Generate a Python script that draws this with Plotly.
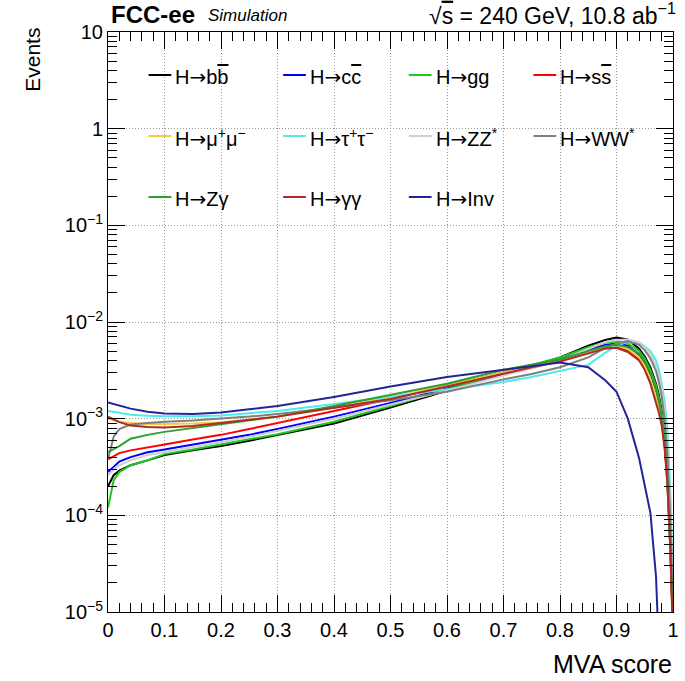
import plotly.graph_objects as go

# ---------------- data ----------------
mva_x = [0.0, 0.01, 0.02, 0.04, 0.07, 0.1, 0.15, 0.2, 0.25, 0.3, 0.4, 0.5, 0.6, 0.7, 0.75,
         0.8, 0.85, 0.88, 0.9, 0.92, 0.94, 0.95, 0.96, 0.97, 0.975, 0.98, 0.985, 0.99, 0.995, 1.0]

h_bb = [2.0e-4, 2.6e-4, 2.9e-4, 3.3e-4, 3.7e-4, 4.2e-4, 4.7e-4, 5.2e-4, 5.9e-4, 6.8e-4, 8.9e-4, 1.3e-3,
        1.95e-3, 2.9e-3, 3.5e-3, 4.3e-3, 5.7e-3, 6.5e-3, 6.9e-3, 6.6e-3, 5.3e-3, 4.4e-3, 3.4e-3, 2.3e-3,
        1.75e-3, 1.2e-3, 6.5e-4, 2.5e-4, 6e-5, 8e-6]
h_cc = [2.8e-4, 3.2e-4, 3.6e-4, 4.0e-4, 4.5e-4, 4.8e-4, 5.4e-4, 6.0e-4, 6.8e-4, 7.8e-4, 1.05e-3, 1.45e-3,
        2.05e-3, 2.9e-3, 3.4e-3, 4.1e-3, 5.2e-3, 5.8e-3, 6.0e-3, 5.7e-3, 4.6e-3, 3.8e-3, 2.9e-3, 2.0e-3,
        1.5e-3, 1.05e-3, 5.8e-4, 2.2e-4, 5e-5, 7e-6]
h_gg = [1.2e-4, 2.3e-4, 2.8e-4, 3.3e-4, 3.7e-4, 4.3e-4, 4.8e-4, 5.4e-4, 6.1e-4, 6.9e-4, 9.3e-4, 1.35e-3,
        2.0e-3, 3.0e-3, 3.6e-3, 4.3e-3, 5.5e-3, 6.1e-3, 6.3e-3, 6.0e-3, 5.0e-3, 4.2e-3, 3.2e-3, 2.2e-3,
        1.65e-3, 1.15e-3, 6.5e-4, 2.5e-4, 6e-5, 8e-6]
h_ss = [3.8e-4, 4.1e-4, 4.4e-4, 4.7e-4, 5.0e-4, 5.4e-4, 6.1e-4, 6.8e-4, 7.8e-4, 9.0e-4, 1.2e-3, 1.6e-3,
        2.2e-3, 3.0e-3, 3.5e-3, 4.0e-3, 4.8e-3, 5.4e-3, 5.5e-3, 5.0e-3, 4.1e-3, 3.3e-3, 2.4e-3, 1.6e-3,
        1.25e-3, 9e-4, 5.5e-4, 2.5e-4, 6e-5, 6e-6]
h_mumu = [1.0e-3, 9.6e-4, 9.3e-4, 9.0e-4, 8.8e-4, 8.8e-4, 8.9e-4, 9.2e-4, 9.8e-4, 1.05e-3, 1.3e-3, 1.65e-3,
          2.2e-3, 3.0e-3, 3.5e-3, 4.0e-3, 4.9e-3, 5.5e-3, 5.7e-3, 5.3e-3, 4.3e-3, 3.5e-3, 2.6e-3, 1.7e-3,
          1.3e-3, 9.5e-4, 5.5e-4, 2.2e-4, 5e-5, 6e-6]
h_tautau = [1.2e-3, 1.18e-3, 1.15e-3, 1.1e-3, 1.07e-3, 1.06e-3, 1.06e-3, 1.08e-3, 1.13e-3, 1.2e-3, 1.42e-3,
            1.7e-3, 2.0e-3, 2.4e-3, 2.7e-3, 3.1e-3, 3.6e-3, 4.8e-3, 5.7e-3, 6.2e-3, 6.0e-3, 5.6e-3, 5.0e-3,
            4.0e-3, 3.2e-3, 2.3e-3, 1.5e-3, 8e-4, 2e-4, 2e-5]
h_zz = [2.6e-4, 3.0e-4, 3.3e-4, 3.7e-4, 4.2e-4, 4.5e-4, 5.1e-4, 5.7e-4, 6.5e-4, 7.5e-4, 1.0e-3, 1.4e-3,
        1.95e-3, 2.8e-3, 3.3e-3, 4.0e-3, 5.3e-3, 6.2e-3, 6.5e-3, 6.6e-3, 6.2e-3, 5.6e-3, 4.6e-3, 3.5e-3,
        2.8e-3, 2.0e-3, 1.2e-3, 6e-4, 1.5e-4, 1.5e-5]
h_ww = [3.8e-4, 6.5e-4, 7.8e-4, 8.7e-4, 9.0e-4, 9.3e-4, 9.6e-4, 1.0e-3, 1.05e-3, 1.12e-3, 1.3e-3, 1.55e-3,
        1.9e-3, 2.55e-3, 2.9e-3, 3.4e-3, 4.3e-3, 5.4e-3, 6.0e-3, 6.3e-3, 5.8e-3, 5.1e-3, 4.2e-3, 3.1e-3,
        2.4e-3, 1.7e-3, 1.0e-3, 4.5e-4, 1e-4, 1.2e-5]
h_zgam = [4.5e-4, 4.8e-4, 5.2e-4, 6.2e-4, 6.8e-4, 7.3e-4, 8.0e-4, 8.8e-4, 9.6e-4, 1.05e-3, 1.35e-3, 1.75e-3,
          2.3e-3, 3.2e-3, 3.6e-3, 4.1e-3, 5.0e-3, 5.6e-3, 5.8e-3, 5.5e-3, 4.7e-3, 3.9e-3, 3.0e-3, 2.0e-3,
          1.5e-3, 1.05e-3, 6e-4, 2.3e-4, 5e-5, 7e-6]
h_gamgam = [1.05e-3, 9.8e-4, 9.2e-4, 8.5e-4, 8.2e-4, 8.1e-4, 8.4e-4, 9.0e-4, 9.7e-4, 1.05e-3, 1.3e-3, 1.6e-3,
            2.15e-3, 2.95e-3, 3.4e-3, 3.9e-3, 4.7e-3, 5.3e-3, 5.4e-3, 4.9e-3, 4.0e-3, 3.2e-3, 2.3e-3, 1.5e-3,
            1.15e-3, 8.5e-4, 5e-4, 2.2e-4, 5e-5, 5e-6]
h_inv = [1.47e-3, 1.42e-3, 1.35e-3, 1.27e-3, 1.18e-3, 1.13e-3, 1.12e-3, 1.16e-3, 1.25e-3, 1.35e-3, 1.68e-3,
         2.15e-3, 2.7e-3, 3.2e-3, 3.5e-3, 3.8e-3, 3.4e-3, 2.5e-3, 1.9e-3, 1.0e-3, 3.9e-4, 2.1e-4, 1.06e-4,
         2.3e-5, 4e-6, None, None, None, None, None]

ov = '<span style="text-decoration:overline">'
arr = '<span style="font-family:DejaVu Sans">→</span>'
labels = ["H" + arr + "b" + ov + "b</span>", "H" + arr + "c" + ov + "c</span>", "H" + arr + "gg",
          "H" + arr + "s" + ov + "s</span>",
          "H" + arr + "μ<sup>+</sup>μ<sup>−</sup>", "H" + arr + "τ<sup>+</sup>τ<sup>−</sup>",
          "H" + arr + "ZZ<sup>*</sup>", "H" + arr + "WW<sup>*</sup>",
          "H" + arr + "Zγ", "H" + arr + "γγ", "H" + arr + "Inv"]
series = [h_bb, h_cc, h_gg, h_ss, h_mumu, h_tautau, h_zz, h_ww, h_zgam, h_gamgam, h_inv]
colors = ["#000000", "#0000ff", "#1ec81e", "#ff0000", "#f2d035", "#50eaea", "#cfcfcf", "#7f7f7f",
          "#2e9e2e", "#b02a2a", "#24249a"]

y_tickvals = [1e-5, 1e-4, 1e-3, 1e-2, 1e-1, 1, 10]
y_ticktext = ["10<sup>−5</sup>", "10<sup>−4</sup>", "10<sup>−3</sup>", "10<sup>−2</sup>",
              "10<sup>−1</sup>", "1", "10"]

# ---------------- layout geometry ----------------
W, H = 685, 681
L, R, T, B = 108, 6, 32, 69
PW, PH = W - L - R, H - T - B
FONT = "Liberation Sans, Arial, Helvetica, sans-serif"


def px(xp):
    return (xp - L) / PW


def py(yp):
    return (H - B - yp) / PH


fig = go.Figure()
for vals, col in zip(series, colors):
    fig.add_trace(go.Scatter(x=mva_x, y=vals, mode="lines", line=dict(color=col, width=2),
                             showlegend=False, connectgaps=False))

annotations = []
shapes = []
# legend (3 rows x 4 columns)
col_x = [149, 285, 412, 538]
row_y = [75, 136, 197]
for i, (lab, col) in enumerate(zip(labels, colors)):
    r, c = divmod(i, 4)
    x0 = col_x[c]
    y0 = row_y[r]
    shapes.append(dict(type="line", xref="paper", yref="paper", x0=px(x0), x1=px(x0 + 23),
                       y0=py(y0), y1=py(y0), line=dict(color=col, width=2)))
    annotations.append(dict(x=px(x0 + 25), y=py(y0 + 2), xref="paper", yref="paper", text=lab,
                            showarrow=False, xanchor="left", yanchor="middle",
                            font=dict(family=FONT, size=20, color="black")))

annotations += [
    dict(x=px(109), y=py(14), xref="paper", yref="paper", text="<b>FCC-ee</b>", showarrow=False,
         xanchor="left", yanchor="middle", font=dict(family=FONT, size=24, color="black")),
    dict(x=px(207), y=py(16), xref="paper", yref="paper", text="<i>Simulation</i>", showarrow=False,
         xanchor="left", yanchor="middle", font=dict(family=FONT, size=17, color="black")),
    dict(x=px(684), y=py(14), xref="paper", yref="paper",
         text="√" + ov + "s</span> = 240 GeV, 10.8 ab<sup>−1</sup>", showarrow=False,
         xanchor="right", yanchor="middle", font=dict(family=FONT, size=23, color="black")),
    dict(x=px(31), y=py(26), xref="paper", yref="paper", text="Events", showarrow=False, textangle=-90,
         xanchor="center", yanchor="top", font=dict(family=FONT, size=21, color="black")),
    dict(x=px(680), y=py(664), xref="paper", yref="paper", text="MVA score", showarrow=False,
         xanchor="right", yanchor="middle", font=dict(family=FONT, size=25, color="black")),
]

minor_y = [k * 10.0 ** e for e in range(-5, 1) for k in range(2, 10)]
GRID = "#9a9a9a"
DASH = "1px,2px"

fig.update_layout(
    width=W, height=H, margin=dict(l=L, r=R, t=T, b=B, pad=0),
    paper_bgcolor="white", plot_bgcolor="white", showlegend=False,
    annotations=annotations, shapes=shapes,
    font=dict(family=FONT, size=20, color="black"),
    xaxis=dict(range=[0, 1], tickmode="linear", tick0=0, dtick=0.1, ticks="inside", ticklen=17,
               tickwidth=1, tickcolor="black", showline=True, linecolor="black", linewidth=1,
               mirror="ticks", showgrid=True, gridcolor=GRID, griddash=DASH, gridwidth=1,
               zeroline=False, tickfont=dict(family=FONT, size=20, color="black"),
               minor=dict(dtick=0.02, tick0=0, ticks="inside", ticklen=9, tickcolor="black",
                          tickwidth=1, showgrid=False)),
    yaxis=dict(type="log", range=[-5, 1], tickmode="array", tickvals=y_tickvals, ticktext=y_ticktext,
               ticks="inside", ticklen=17, tickwidth=1, tickcolor="black", showline=True,
               linecolor="black", linewidth=1, mirror="ticks", showgrid=True, gridcolor=GRID,
               griddash=DASH, gridwidth=1, zeroline=False,
               tickfont=dict(family=FONT, size=20, color="black"),
               minor=dict(tickmode="array", tickvals=minor_y, ticks="inside", ticklen=9,
                          tickcolor="black", tickwidth=1, showgrid=False)),
)

fig.write_html("out.html")
